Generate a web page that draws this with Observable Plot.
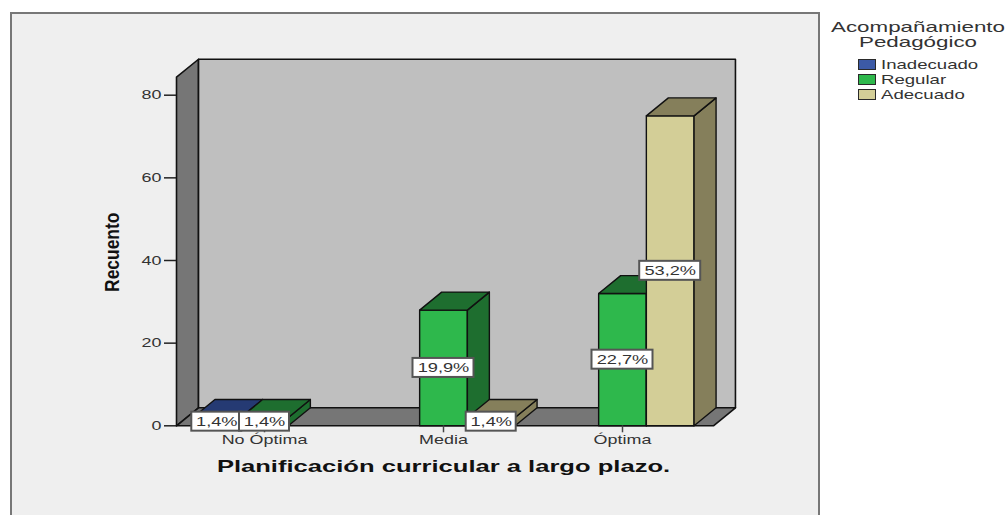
<!DOCTYPE html>
<html>
<head>
<meta charset="utf-8">
<style>
html,body{margin:0;padding:0;background:#fff;width:1006px;height:515px;overflow:hidden;font-family:"Liberation Sans",Arial,sans-serif}
#panel{position:absolute;left:10px;top:12px;width:806px;height:520px;background:#efefef;border:2px solid #777}
#chart{position:absolute;left:0;top:0}
#chart svg{background:transparent!important;overflow:visible}
.st{position:absolute;transform:scaleX(1.43);transform-origin:0 50%;font-size:13px;color:#333;white-space:nowrap;line-height:15px;height:15px}
.t{position:absolute;left:918px;font-size:15px;line-height:15px;color:#333;white-space:nowrap;transform:translateX(-50%) scaleX(1.49)}
.sw{position:absolute;left:858px;width:16px;height:9px;border:1.5px solid #2a2a2a}
</style>
<script src="https://cdn.jsdelivr.net/npm/d3@7"></script>
<script src="https://cdn.jsdelivr.net/npm/@observablehq/plot@0.6"></script>
</head>
<body>
<div id="panel"></div>
<div id="chart"></div>
<div id="legend"></div>
<script>
const categories = ["No Óptima", "Media", "Óptima"];
const seriesNames = ["Inadecuado", "Regular", "Adecuado"];
const inadecuado = [2, 0, 0];
const regular = [2, 28, 32];
const adecuado = [0, 2, 75];
const pctInadecuado = ["1,4%", "", ""];
const pctRegular = ["1,4%", "19,9%", "22,7%"];
const pctAdecuado = ["", "1,4%", "53,2%"];
const frontColors = ["#3c5aa6", "#2eb84c", "#d3ce97"];
const sideColors = ["#253a73", "#1e6e2f", "#857f5b"];
const yTicks = [0, 20, 40, 60, 80];
const xLabel = "Planificación curricular a largo plazo.";
const yLabel = "Recuento";

// Bar and depth sizes in scale units
const barW = 0.2665, depthX = 0.123, depthY = 4.35;
const xMin = -0.4916, xMax = 2.508, yMax = 84.35;

const poly = (id, fill, pts) => pts.map(([x, y]) => ({id, fill, x, y}));
const walls = [
  ...poly("left", "#767676", [[xMin,0],[xMin,yMax],[xMin+depthX,yMax+depthY],[xMin+depthX,depthY]]),
  ...poly("back", "#bfbfbf", [[xMin+depthX,depthY],[xMin+depthX,yMax+depthY],[xMax+depthX,yMax+depthY],[xMax+depthX,depthY]]),
  ...poly("floor", "#767676", [[xMin,0],[xMax,0],[xMax+depthX,depthY],[xMin+depthX,depthY]])
];

const seriesValues = [inadecuado, regular, adecuado];
const seriesPct = [pctInadecuado, pctRegular, pctAdecuado];
const bars = [], labels = [];
categories.forEach((c, i) => {
  seriesValues.forEach((vals, s) => {
    const v = vals[i];
    if (!v) return;
    const a = i + (s - 1.5) * barW, b = a + barW, id = c + s;
    bars.push(...poly(id + "f", frontColors[s], [[a,0],[a,v],[b,v],[b,0]]));
    bars.push(...poly(id + "s", sideColors[s], [[b,0],[b,v],[b+depthX,v+depthY],[b+depthX,depthY]]));
    bars.push(...poly(id + "t", sideColors[s], [[a,v],[a+depthX,v+depthY],[b+depthX,v+depthY],[b,v]]));
    labels.push({x: (a + b) / 2, y: v / 2, text: seriesPct[s][i]});
  });
});
const wide = labels.filter(d => d.text.length > 4);
const narrow = labels.filter(d => d.text.length <= 4);

// Widen or narrow text horizontally, as in the source picture
const stretch = k => function(index, scales, values, dims, context, next) {
  const g = next(index, scales, values, dims, context);
  g.querySelectorAll("text").forEach(t => {
    t.setAttribute("transform", (t.getAttribute("transform") || "") + ` scale(${k},1)`);
  });
  return g;
};

const labelBox = (data, half) => Plot.rect(data, {
  x1: "x", x2: "x", y1: "y", y2: "y",
  insetLeft: -half, insetRight: -half, insetTop: -9.5, insetBottom: -9.5,
  fill: "#fff", stroke: "#555", strokeWidth: 2
});

const chart = Plot.plot({
  width: 1006, height: 515,
  marginLeft: 176, marginRight: 0, marginTop: 94.7, marginBottom: 89.7,
  style: {background: "transparent", fontFamily: "'Liberation Sans', Arial, sans-serif"},
  x: {type: "linear", domain: [0, 2], range: [264, 622]},
  y: {domain: [0, 80], range: [425.3, 94.7]},
  marks: [
    Plot.line(walls, {x: "x", y: "y", z: "id", fill: "fill", stroke: "#111", strokeWidth: 1.6, curve: "linear-closed"}),
    Plot.line(bars, {x: "x", y: "y", z: "id", fill: "fill", stroke: "#111", strokeWidth: 1.4, curve: "linear-closed"}),
    Plot.axisY({ticks: yTicks, label: null, tickSize: 12, tickPadding: 3, fontSize: 13, stroke: "#222", color: "#333", strokeWidth: 1.5, render: stretch(1.38)}),
    Plot.axisX({ticks: [0, 1, 2], tickFormat: i => categories[i], label: null, tickSize: 7, tickPadding: 2, fontSize: 13, color: "#333", stroke: "#444", strokeWidth: 1.5, render: stretch(1.38)}),
    labelBox(wide, 30.5),
    labelBox(narrow, 25),
    Plot.text(labels, {x: "x", y: "y", text: "text", fontSize: 13.5, fill: "#333", render: stretch(1.35)}),
    Plot.text([xLabel], {x: () => 1, y: () => -10, text: d => d, fontSize: 16.5, fontWeight: "bold", fill: "#111", render: stretch(1.55)}),
    Plot.text([yLabel], {x: () => -0.85, y: () => 42, text: d => d, rotate: -90, fontSize: 21, fontWeight: "bold", fill: "#111", render: stretch(0.83)})
  ]
});
document.getElementById("chart").append(chart);

const lg = document.getElementById("legend");
const add = (cls, txt, css) => {
  const e = document.createElement("div");
  e.className = cls;
  if (txt) e.textContent = txt;
  e.style.cssText = css;
  lg.append(e);
};
add("t", "Acompañamiento", "top:19px");
add("t", "Pedagógico", "top:34px");
seriesNames.forEach((n, i) => {
  add("sw", "", `top:${58.5 + i * 15}px;background:${frontColors[i]}`);
  add("st", n, `left:881px;top:${56.5 + i * 15}px`);
});
</script>
</body>
</html>
